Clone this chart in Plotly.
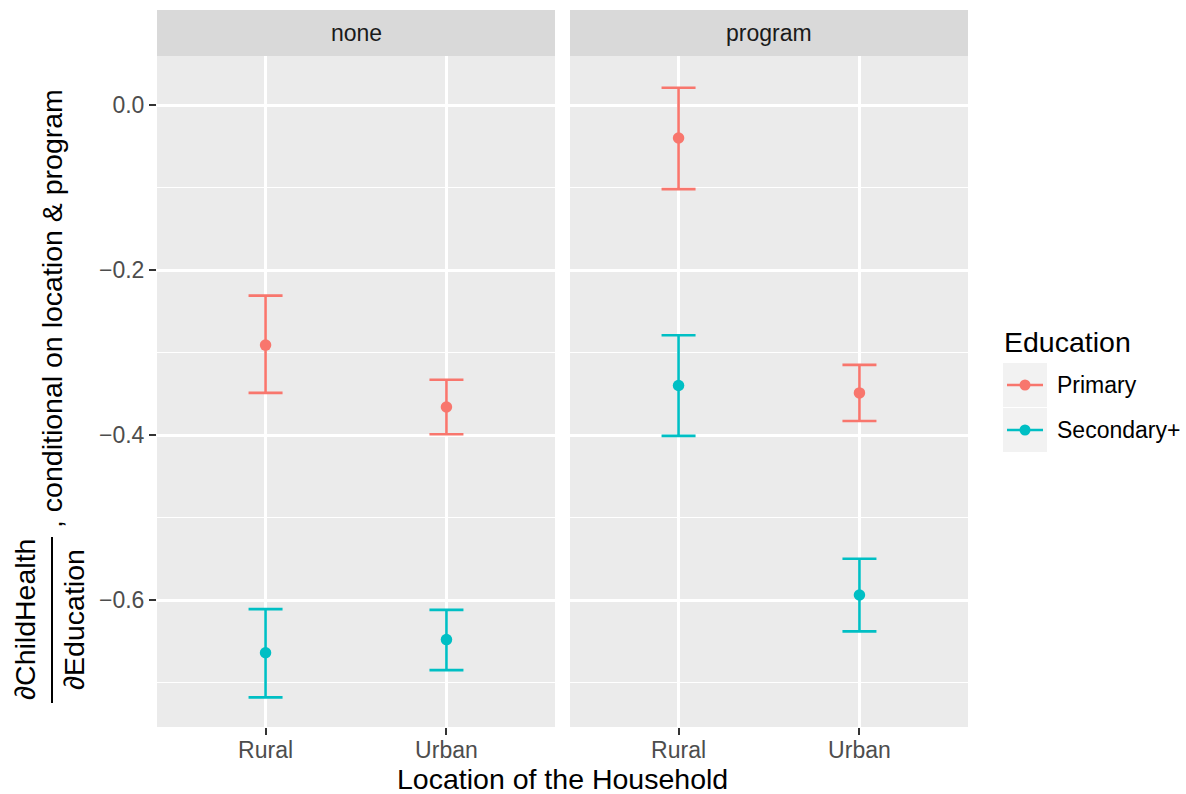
import plotly.graph_objects as go

# ---- data -------------------------------------------------------------
locations = ["Rural", "Urban"]
programs = ["none", "program"]
education_levels = ["Primary", "Secondary+"]

# marginal effect estimates with lower / upper confidence limits
none_primary_est = [-0.291, -0.366]
none_primary_lo = [-0.349, -0.399]
none_primary_hi = [-0.231, -0.333]

none_secondary_est = [-0.664, -0.648]
none_secondary_lo = [-0.718, -0.685]
none_secondary_hi = [-0.611, -0.612]

program_primary_est = [-0.040, -0.349]
program_primary_lo = [-0.102, -0.383]
program_primary_hi = [0.021, -0.315]

program_secondary_est = [-0.340, -0.594]
program_secondary_lo = [-0.401, -0.638]
program_secondary_hi = [-0.279, -0.550]

y_ticks = [-0.6, -0.4, -0.2, 0.0]
y_tick_labels = ["\u22120.6", "\u22120.4", "\u22120.2", "0.0"]
y_minor = [-0.7, -0.5, -0.3, -0.1]

# ---- styling ----------------------------------------------------------
W, H = 1186, 794
FONT = "Liberation Sans, Arial, Helvetica, sans-serif"
colors = {"Primary": "#F8766D", "Secondary+": "#00BFC4"}
PANEL_BG = "#EBEBEB"
STRIP_BG = "#D9D9D9"

# panel pixel boxes
panels = {"none": (157, 555), "program": (570, 968)}
panel_top, panel_bottom = 56, 727
strip_top = 10
y_zero_px, px_per_unit = 105, 825.0
y_range = [-(panel_bottom - y_zero_px) / px_per_unit, (y_zero_px - panel_top) / px_per_unit]


def fx(x):
    return x / W


def fy(y):
    return 1 - y / H


fig = go.Figure()

series = {
    ("none", "Primary"): (none_primary_est, none_primary_lo, none_primary_hi),
    ("none", "Secondary+"): (none_secondary_est, none_secondary_lo, none_secondary_hi),
    ("program", "Primary"): (program_primary_est, program_primary_lo, program_primary_hi),
    ("program", "Secondary+"): (program_secondary_est, program_secondary_lo, program_secondary_hi),
}

for (prog, edu), (est, lo, hi) in series.items():
    axis_idx = "" if prog == "none" else "2"
    fig.add_trace(go.Scatter(
        x=locations,
        y=est,
        mode="markers",
        name=edu,
        showlegend=False,
        xaxis="x" + axis_idx,
        yaxis="y" + axis_idx,
        marker=dict(color=colors[edu], size=11.5),
        error_y=dict(
            type="data",
            symmetric=False,
            array=[h - e for h, e in zip(hi, est)],
            arrayminus=[e - l for e, l in zip(est, lo)],
            color=colors[edu],
            thickness=2.6,
            width=17,
        ),
    ))

axis_common = dict(
    showline=False,
    zeroline=False,
    gridcolor="white",
    gridwidth=2.6,
    ticks="outside",
    ticklen=7,
    tickwidth=2,
    tickcolor="#333333",
    tickfont=dict(family=FONT, size=23, color="#4D4D4D"),
    fixedrange=True,
)

for i, prog in enumerate(programs):
    x0, x1 = panels[prog]
    sfx = "" if i == 0 else str(i + 1)
    fig.update_layout(**{
        "xaxis" + sfx: dict(
            axis_common,
            domain=[fx(x0), fx(x1)],
            type="category",
            categoryorder="array",
            categoryarray=locations,
            range=[-0.6, 1.6],
            anchor="y" + sfx,
            ticklabelstandoff=-5,
        ),
        "yaxis" + sfx: dict(
            axis_common,
            domain=[fy(panel_bottom), fy(panel_top)],
            range=y_range,
            tickvals=y_ticks,
            ticktext=y_tick_labels,
            showticklabels=(i == 0),
            ticks="outside" if i == 0 else "",
            minor=dict(tickvals=y_minor, showgrid=True, gridcolor="white",
                       gridwidth=1.3, ticks=""),
            anchor="x" + sfx,
            matches=None if i == 0 else "y",
        ),
    })

shapes = []
annotations = []

# facet strips
for prog in programs:
    x0, x1 = panels[prog]
    shapes.append(dict(type="rect", xref="paper", yref="paper",
                       x0=fx(x0), x1=fx(x1), y0=fy(panel_top), y1=fy(strip_top),
                       fillcolor=STRIP_BG, line=dict(width=0), layer="below"))
    annotations.append(dict(text=prog, xref="paper", yref="paper",
                            x=fx((x0 + x1) / 2), y=fy((strip_top + panel_top) / 2),
                            xanchor="center", yanchor="middle", showarrow=False,
                            font=dict(family=FONT, size=23, color="#1A1A1A")))

# x-axis title
annotations.append(dict(text="Location of the Household", xref="paper", yref="paper",
                        x=fx((157 + 968) / 2), y=fy(779), xanchor="center", yanchor="middle",
                        showarrow=False, font=dict(family=FONT, size=28.5, color="black")))

# y-axis title: fraction d ChildHealth / d Education, then the rest of the label
annotations.append(dict(text="\u2202ChildHealth", xref="paper", yref="paper",
                        x=fx(25), y=fy(620), xanchor="center", yanchor="middle",
                        textangle=-90, showarrow=False,
                        font=dict(family=FONT, size=28.5, color="black")))
annotations.append(dict(text="\u2202Education", xref="paper", yref="paper",
                        x=fx(74), y=fy(620), xanchor="center", yanchor="middle",
                        textangle=-90, showarrow=False,
                        font=dict(family=FONT, size=28.5, color="black")))
shapes.append(dict(type="line", xref="paper", yref="paper",
                   x0=fx(52), x1=fx(52), y0=fy(537), y1=fy(703),
                   line=dict(color="black", width=2)))
annotations.append(dict(text=", conditional on location & program", xref="paper", yref="paper",
                        x=fx(52), y=fy(309), xanchor="center", yanchor="middle",
                        textangle=-90, showarrow=False,
                        font=dict(family=FONT, size=28.5, color="black")))

# legend
annotations.append(dict(text="Education", xref="paper", yref="paper",
                        x=fx(1002), y=fy(342), xanchor="left", yanchor="middle",
                        showarrow=False, font=dict(family=FONT, size=28.5, color="black")))
key_tops = [363, 408]
for edu, top in zip(education_levels, key_tops):
    cy = top + 22
    shapes.append(dict(type="rect", xref="paper", yref="paper",
                       x0=fx(1003), x1=fx(1047), y0=fy(top + 44), y1=fy(top),
                       fillcolor="#F2F2F2", line=dict(width=0)))
    shapes.append(dict(type="line", xref="paper", yref="paper",
                       x0=fx(1007), x1=fx(1043), y0=fy(cy), y1=fy(cy),
                       line=dict(color=colors[edu], width=2.6)))
    shapes.append(dict(type="circle", xref="paper", yref="paper",
                       x0=fx(1025 - 5.5), x1=fx(1025 + 5.5), y0=fy(cy + 5.5), y1=fy(cy - 5.5),
                       fillcolor=colors[edu], line=dict(width=0)))
    annotations.append(dict(text=edu, xref="paper", yref="paper",
                            x=fx(1055), y=fy(cy), xanchor="left", yanchor="middle",
                            showarrow=False, font=dict(family=FONT, size=23, color="black")))

fig.update_layout(
    width=W,
    height=H,
    margin=dict(l=0, r=0, t=0, b=0),
    paper_bgcolor="white",
    plot_bgcolor=PANEL_BG,
    showlegend=False,
    shapes=shapes,
    annotations=annotations,
    font=dict(family=FONT),
)

fig.write_html("out.html")
